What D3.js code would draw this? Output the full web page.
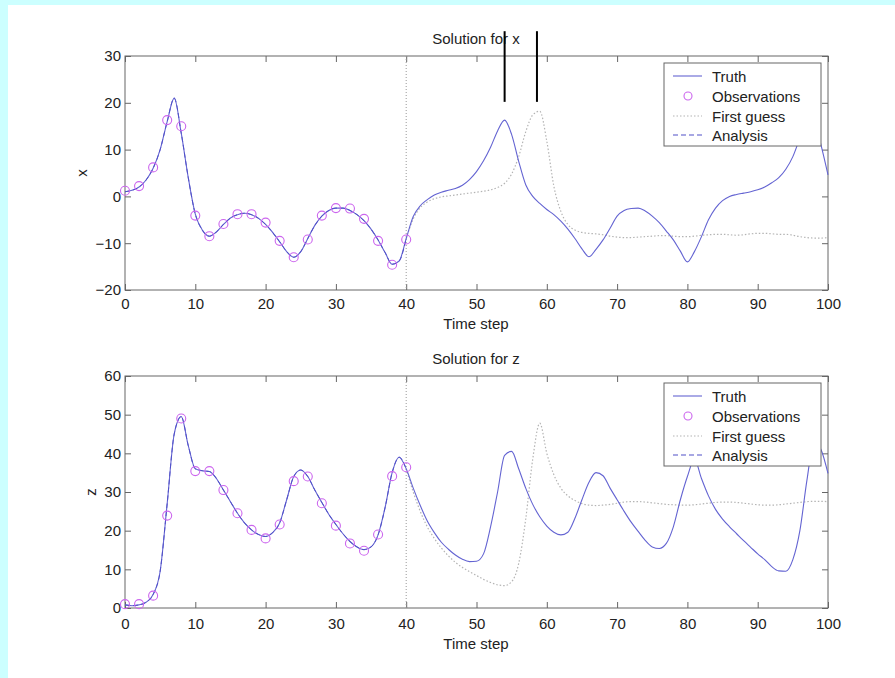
<!DOCTYPE html>
<html lang="en">
<head>
    <meta charset="UTF-8">
    <title>Solution for x and z</title>
    <style>
        body { margin: 0; background: #ccffff; }
        svg { display: block; }
        text { font-family: "Liberation Sans", Arial, sans-serif; fill: #222; }
        .tick line { stroke: #666; }
        .tick text { font-size: 15px; fill: #222; }
    </style>
    <script src="https://d3js.org/d3.v7.min.js"></script>
</head>
<body>
    <svg width="895" height="678"></svg>
    <script>
        // time axis
        const timeTicks = [0, 10, 20, 30, 40, 50, 60, 70, 80, 90, 100];
        const xTicks = [-20, -10, 0, 10, 20, 30];
        const zTicks = [0, 10, 20, 30, 40, 50, 60];
        const legendLabels = ["Truth", "Observations", "First guess", "Analysis"];

        // truth, one value per time step 0..100
        const truthX = [1.0, 1.3, 2.0, 3.5, 6.0, 10.0, 16.0, 21.0, 13.5, 4.0,
            -3.8, -7.2, -8.5, -7.6, -6.0, -4.6, -3.9, -3.6, -3.9, -4.7,
            -6.0, -7.7, -9.7, -11.8, -13.0, -11.8, -9.0, -6.2, -4.2, -3.0,
            -2.5, -2.5, -3.0, -3.9, -5.2, -7.0, -9.3, -12.0, -14.5, -13.8,
            -9.0, -4.3, -2.0, -0.7, 0.3, 0.9, 1.3, 1.7, 2.4, 3.6,
            5.3, 7.6, 10.5, 14.0, 16.3, 13.2, 7.5, 2.5, 0.0, -1.5,
            -2.8, -3.9, -5.3, -7.0, -9.0, -11.2, -12.9, -11.3, -9.3, -6.8,
            -4.2, -3.0, -2.6, -2.5, -3.1, -4.2, -5.6, -7.4, -9.3, -11.7,
            -14.0, -11.8, -8.6, -5.0, -2.5, -0.9, 0.0, 0.4, 0.7, 1.0,
            1.4, 2.0, 2.9, 4.0, 5.8, 8.5, 12.5, 16.5, 16.5, 11.0,
            4.6];
        const truthZ = [0.8, 0.6, 0.8, 1.5, 3.5, 9.5, 27.0, 45.0, 49.5, 42.0,
            36.0, 35.5, 35.3, 33.5, 30.5, 27.5, 24.5, 22.0, 20.2, 19.0,
            18.5, 19.5, 22.0, 28.0, 34.0, 35.7, 34.0, 30.5, 27.3, 24.2,
            21.6, 19.2, 17.2, 15.8, 15.1, 15.8, 18.9, 26.0, 35.0, 39.0,
            36.0, 31.0, 26.5, 22.5, 19.5, 17.0, 15.2, 13.7, 12.6, 12.0,
            12.1, 14.0, 21.0, 30.0, 39.5, 40.5, 36.0, 31.0, 26.8, 23.6,
            21.2, 19.6, 18.9, 19.6, 23.2, 28.0, 32.5, 35.0, 34.2, 31.0,
            28.0, 25.0, 22.2, 19.8, 17.5, 15.8, 15.4, 16.7, 21.0, 28.0,
            34.0, 38.5, 33.5, 29.0, 25.5, 23.0, 21.0, 19.2, 17.4, 15.7,
            14.0, 12.5, 10.7, 9.6, 9.5, 12.5, 20.0, 33.0, 43.0, 41.0,
            34.8];

        // observations every second step inside the window 0..40
        const obsTimes = [0, 2, 4, 6, 8, 10, 12, 14, 16, 18, 20, 22, 24, 26, 28, 30, 32, 34, 36, 38, 40];
        const obsX = [1.2, 2.2, 6.2, 16.3, 15.0, -4.1, -8.5, -5.9, -3.8, -3.8, -5.6,
            -9.5, -13.0, -9.2, -4.1, -2.5, -2.6, -4.8, -9.5, -14.6, -9.2];
        const obsZ = [1.0, 1.0, 3.2, 23.9, 49.0, 35.4, 35.4, 30.5, 24.5, 20.2, 18.0,
            21.6, 32.8, 34.0, 27.1, 21.3, 16.7, 14.8, 19.0, 34.1, 36.4];

        // first guess forecast, steps 40..100
        const guessStart = 40;
        const guessX = [-9.0, -4.8, -2.4, -1.2, -0.5, -0.1, 0.1, 0.3, 0.5, 0.7,
            0.9, 1.1, 1.4, 1.9, 2.8, 4.8, 8.5, 13.8, 17.4, 18.2,
            11.8, 2.2, -3.2, -6.0, -7.2, -7.7, -7.9, -8.0, -8.2, -8.5,
            -8.7, -8.8, -8.8, -8.7, -8.6, -8.5, -8.4, -8.4, -8.5, -8.6,
            -8.6, -8.5, -8.3, -8.2, -8.1, -8.1, -8.2, -8.3, -8.2, -8.0,
            -7.9, -7.9, -8.0, -8.1, -8.1, -8.3, -8.6, -8.8, -8.9, -8.9,
            -8.8];
        const guessZ = [36.0, 30.0, 25.0, 21.0, 18.0, 15.5, 13.5, 11.8, 10.5, 9.4,
            8.4, 7.4, 6.6, 6.0, 5.8, 6.8, 11.5, 23.0, 38.5, 47.8,
            40.0, 34.5, 31.0, 29.0, 27.8, 27.0, 26.6, 26.5, 26.6, 26.8,
            27.1, 27.4, 27.5, 27.5, 27.4, 27.2, 27.0, 26.8, 26.7, 26.6,
            26.6, 26.7, 26.9, 27.1, 27.3, 27.4, 27.4, 27.3, 27.1, 26.9,
            26.7, 26.6, 26.6, 26.7, 26.9, 27.1, 27.3, 27.5, 27.6, 27.6,
            27.5];

        // analysis over the window 0..40
        const analysisX = [1.0, 1.3, 2.0, 3.5, 6.0, 10.0, 16.0, 21.0, 13.5, 4.0,
            -3.8, -7.2, -8.5, -7.6, -6.0, -4.6, -3.9, -3.6, -3.9, -4.7,
            -6.0, -7.7, -9.7, -11.8, -13.0, -11.8, -9.0, -6.2, -4.2, -3.0,
            -2.5, -2.5, -3.0, -3.9, -5.2, -7.0, -9.3, -12.0, -14.5, -13.8,
            -9.0];
        const analysisZ = [0.8, 0.6, 0.8, 1.5, 3.5, 9.5, 27.0, 45.0, 49.5, 42.0,
            36.0, 35.5, 35.3, 33.5, 30.5, 27.5, 24.5, 22.0, 20.2, 19.0,
            18.5, 19.5, 22.0, 28.0, 34.0, 35.7, 34.0, 30.5, 27.3, 24.2,
            21.6, 19.2, 17.2, 15.8, 15.1, 15.8, 18.9, 26.0, 35.0, 39.0,
            36.0];

        const windowEnd = 40;
        // black marker lines over the x panel
        const markerTimes = [54, 58.6];
        const markerFrom = 35.3, markerTo = 20.2;

        const colTruth = "#6464d2", colObs = "#cc66ee", colGuess = "#b4b4b4", colAnalysis = "#5050c8";

        const svg = d3.select("svg");
        svg.append("rect").attr("x", 8).attr("y", 5).attr("width", 887).attr("height", 673).attr("fill", "#fff");

        const x = d3.scaleLinear().domain([0, 100]).range([125, 828]);

        function panel(cfg) {
            const y = d3.scaleLinear().domain(cfg.domain).range([cfg.bottom, cfg.top]);
            const g = svg.append("g");

            // inward ticks on all sides
            g.append("g").attr("transform", `translate(0,${cfg.bottom})`)
                .call(d3.axisBottom(x).tickValues(timeTicks).tickSizeInner(-6).tickSizeOuter(0).tickPadding(cfg.xPad))
                .call(a => a.select(".domain").remove());
            g.append("g").attr("transform", `translate(0,${cfg.top})`)
                .call(d3.axisTop(x).tickValues(timeTicks).tickSizeInner(-6).tickSizeOuter(0).tickFormat(""))
                .call(a => a.select(".domain").remove());
            g.append("g").attr("transform", `translate(125,0)`)
                .call(d3.axisLeft(y).tickValues(cfg.ticks).tickSizeInner(-6).tickSizeOuter(0).tickPadding(4))
                .call(a => a.select(".domain").remove());
            g.append("g").attr("transform", `translate(828,0)`)
                .call(d3.axisRight(y).tickValues(cfg.ticks).tickSizeInner(-6).tickSizeOuter(0).tickFormat(""))
                .call(a => a.select(".domain").remove());

            g.append("rect").attr("x", 125).attr("y", cfg.top)
                .attr("width", 703).attr("height", cfg.bottom - cfg.top)
                .attr("fill", "none").attr("stroke", "#666");

            // end of the assimilation window
            g.append("line")
                .attr("x1", x(windowEnd)).attr("x2", x(windowEnd))
                .attr("y1", cfg.top).attr("y2", cfg.bottom)
                .attr("stroke", "#999").attr("stroke-dasharray", "1,2");

            const line = d3.line().x(d => x(d[0])).y(d => y(d[1])).curve(d3.curveMonotoneX);

            g.append("path").datum(cfg.guess.map((v, i) => [guessStart + i, v]))
                .attr("d", line).attr("fill", "none")
                .attr("stroke", colGuess).attr("stroke-width", 1.2).attr("stroke-dasharray", "1.5,2");
            g.append("path").datum(cfg.truth.map((v, i) => [i, v]))
                .attr("d", line).attr("fill", "none")
                .attr("stroke", colTruth).attr("stroke-width", 1.1);
            g.append("path").datum(cfg.analysis.map((v, i) => [i, v]))
                .attr("d", line).attr("fill", "none")
                .attr("stroke", colAnalysis).attr("stroke-width", 1).attr("stroke-dasharray", "5,3");

            g.selectAll("circle.obs").data(obsTimes).enter().append("circle")
                .attr("class", "obs")
                .attr("cx", d => x(d)).attr("cy", (d, i) => y(cfg.obs[i]))
                .attr("r", 4.5).attr("fill", "none").attr("stroke", colObs).attr("stroke-width", 1.1);

            // title and axis labels
            g.append("text").attr("x", 476).attr("y", cfg.top - 18)
                .attr("text-anchor", "middle").attr("dominant-baseline", "central")
                .style("font-size", "15px").text(cfg.title);
            g.append("text").attr("x", 476).attr("y", cfg.bottom + cfg.labelOff)
                .attr("text-anchor", "middle").attr("dominant-baseline", "central")
                .style("font-size", "15px").text("Time step");
            g.append("text")
                .attr("transform", `translate(${cfg.yLabelX},${(cfg.top + cfg.bottom) / 2}) rotate(-90)`)
                .attr("text-anchor", "middle").attr("dominant-baseline", "central")
                .style("font-size", "15px").text(cfg.yLabel);

            // legend
            const lg = g.append("g").attr("transform", `translate(664,${cfg.top + 7})`);
            lg.append("rect").attr("width", 157).attr("height", 83)
                .attr("fill", "#fff").attr("stroke", "#666");
            const rows = [13, 33, 53, 72];
            legendLabels.forEach((lab, i) => {
                if (i === 1) {
                    lg.append("circle").attr("cx", 24).attr("cy", rows[i]).attr("r", 4)
                        .attr("fill", "none").attr("stroke", colObs).attr("stroke-width", 1.1);
                } else {
                    lg.append("line").attr("x1", 9).attr("x2", 38).attr("y1", rows[i]).attr("y2", rows[i])
                        .attr("stroke", [colTruth, null, colGuess, colAnalysis][i])
                        .attr("stroke-width", 1.1)
                        .attr("stroke-dasharray", i === 2 ? "1.5,2" : i === 3 ? "5,3" : null);
                }
                lg.append("text").attr("x", 48).attr("y", rows[i])
                    .attr("dominant-baseline", "central").style("font-size", "15px").text(lab);
            });
            return y;
        }

        const yTop = panel({
            domain: [-20, 30], top: 56, bottom: 290, ticks: xTicks, xPad: 8, labelOff: 33,
            title: "Solution for x", yLabel: "x", yLabelX: 81,
            truth: truthX, obs: obsX, guess: guessX, analysis: analysisX
        });
        panel({
            domain: [0, 60], top: 376, bottom: 608, ticks: zTicks, xPad: 10, labelOff: 35,
            title: "Solution for z", yLabel: "z", yLabelX: 90,
            truth: truthZ, obs: obsZ, guess: guessZ, analysis: analysisZ
        });

        svg.selectAll("line.marker").data(markerTimes).enter().append("line")
            .attr("class", "marker")
            .attr("x1", d => x(d)).attr("x2", d => x(d))
            .attr("y1", yTop(markerFrom)).attr("y2", yTop(markerTo))
            .attr("stroke", "#000").attr("stroke-width", 2);
    </script>
</body>
</html>
